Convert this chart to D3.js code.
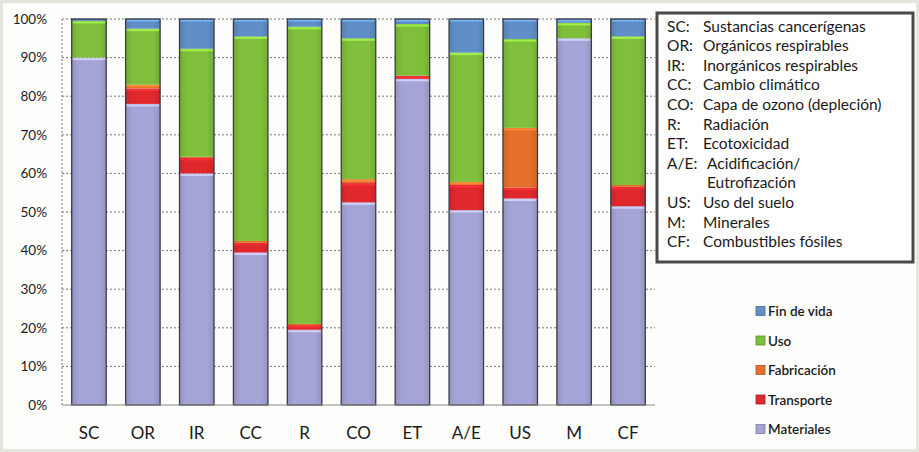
<!DOCTYPE html>
<html>
<head>
<meta charset="utf-8">
<script src="https://cdn.jsdelivr.net/npm/d3@7"></script>
<style>
  body { margin: 0; background: #fff; }
  text { font-family: Lato, "Open Sans", sans-serif; fill: #1a1a1a; }
</style>
</head>
<body>
<div id="chart"></div>
<script>
// categories and series (percent of each impact, bottom -> top)
const categories = ["SC", "OR", "IR", "CC", "R", "CO", "ET", "A/E", "US", "M", "CF"];
const materiales  = [90,   78,  60,  39.5, 19.5, 52.5, 84.5, 50.5, 53.5, 95,  51.5];
const transporte  = [0,    4,   4,   2.5,  1.2,  5,    0.8,  6.5,  2.8,  0,   5];
const fabricacion = [0,    1,   0.3, 0.5,  0.3,  1,    0,    0.8,  15.5, 0,   0.5];
const uso         = [9.5,  14.5,28,  53,   77,   36.5, 13.4, 33.5, 23,   4,   38.5];
const finDeVida   = [0.5,  2.5, 7.7, 4.5,  2,    5,    1.3,  8.7,  5.2,  1,   4.5];

const seriesNames = ["Materiales", "Transporte", "Fabricación", "Uso", "Fin de vida"];
const yTicks = [0, 10, 20, 30, 40, 50, 60, 70, 80, 90, 100];

const glossaryAbbr = ["SC:", "OR:", "IR:", "CC:", "CO:", "R:", "ET:", "A/E:", "", "US:", "M:", "CF:"];
const glossaryText = ["Sustancias cancerígenas", "Orgánicos respirables", "Inorgánicos respirables",
  "Cambio climático", "Capa de ozono (depleción)", "Radiación", "Ecotoxicidad", "Acidificación/",
  "Eutrofización", "Uso del suelo", "Minerales", "Combustibles fósiles"];

const colors = {
  "Materiales": "#a5a4d6",
  "Transporte": "#e0282d",
  "Fabricación": "#e56f2b",
  "Uso": "#7fbf3b",
  "Fin de vida": "#5f8fc6"
};

const width = 919, height = 452;
const margin = { top: 19, left: 62, right: 264, bottom: 47 };

const svg = d3.select("#chart").append("svg")
  .attr("width", width)
  .attr("height", height);

// paper frame
svg.append("rect")
  .attr("x", 0).attr("y", 0).attr("width", width).attr("height", height)
  .attr("fill", "#fdfdfb");
svg.append("rect")
  .attr("x", 1.5).attr("y", 1.5).attr("width", width - 3).attr("height", height - 3)
  .attr("fill", "none").attr("stroke", "#e4e6dc").attr("stroke-width", 3);

const x = d3.scaleBand()
  .domain(categories)
  .range([margin.left, width - margin.right])
  .paddingInner(0.36)
  .paddingOuter(0.18);

const y = d3.scaleLinear()
  .domain([0, 100])
  .range([height - margin.bottom, margin.top]);

// gridlines
svg.append("g")
  .selectAll("line")
  .data(yTicks.filter(d => d > 0))
  .enter().append("line")
  .attr("x1", margin.left).attr("x2", width - margin.right)
  .attr("y1", d => y(d)).attr("y2", d => y(d))
  .attr("stroke", "#777")
  .attr("stroke-width", 1)
  .attr("stroke-dasharray", "2,2");

svg.append("line")
  .attr("x1", margin.left).attr("x2", margin.left)
  .attr("y1", y(100)).attr("y2", y(0))
  .attr("stroke", "#777")
  .attr("stroke-dasharray", "2,2");

// y axis labels
const yAxis = d3.axisLeft(y)
  .tickValues(yTicks)
  .tickFormat(d => d + "%")
  .tickSize(0)
  .tickPadding(15);

const yg = svg.append("g")
  .attr("transform", "translate(" + margin.left + ",0)")
  .call(yAxis);
yg.select(".domain").remove();
yg.selectAll("text")
  .style("font-size", "13.5px")
  .style("font-family", "Lato, sans-serif")
  .attr("fill", "#1a1a1a");

// stacked data
const table = categories.map((c, i) => ({
  cat: c,
  "Materiales": materiales[i],
  "Transporte": transporte[i],
  "Fabricación": fabricacion[i],
  "Uso": uso[i],
  "Fin de vida": finDeVida[i]
}));

const stacked = d3.stack().keys(seriesNames)(table);

const defs = svg.append("defs");
seriesNames.forEach((name, k) => {
  const base = d3.color(colors[name]);
  const grad = defs.append("linearGradient")
    .attr("id", "grad" + k)
    .attr("x1", "0").attr("x2", "1").attr("y1", "0").attr("y2", "0");
  grad.append("stop").attr("offset", "0").attr("stop-color", base.darker(0.3));
  grad.append("stop").attr("offset", "0.2").attr("stop-color", base);
  grad.append("stop").attr("offset", "0.8").attr("stop-color", base);
  grad.append("stop").attr("offset", "1").attr("stop-color", base.darker(0.3));
});

stacked.forEach((layer, k) => {
  const g = svg.append("g");
  g.selectAll("rect.seg")
    .data(layer.filter(d => d[1] - d[0] > 0))
    .enter().append("rect")
    .attr("class", "seg")
    .attr("x", d => x(d.data.cat))
    .attr("width", x.bandwidth())
    .attr("y", d => y(d[1]))
    .attr("height", d => y(d[0]) - y(d[1]))
    .attr("fill", "url(#grad" + k + ")");
  // top highlight of each segment
  g.selectAll("rect.hl")
    .data(layer.filter(d => y(d[0]) - y(d[1]) > 3))
    .enter().append("rect")
    .attr("class", "hl")
    .attr("x", d => x(d.data.cat) + 1)
    .attr("width", x.bandwidth() - 2)
    .attr("y", d => y(d[1]) + 0.5)
    .attr("height", 2)
    .attr("fill", d3.color(colors[seriesNames[k]]).brighter(0.8))
    .attr("opacity", 0.8);
});

// bar outlines
svg.append("g")
  .selectAll("rect")
  .data(categories)
  .enter().append("rect")
  .attr("x", d => x(d))
  .attr("width", x.bandwidth())
  .attr("y", y(100))
  .attr("height", y(0) - y(100))
  .attr("fill", "none")
  .attr("stroke", "#3b3b4a")
  .attr("stroke-width", 1.3);

// x axis
svg.append("line")
  .attr("x1", margin.left).attr("x2", width - margin.right)
  .attr("y1", y(0)).attr("y2", y(0))
  .attr("stroke", "#888")
  .attr("stroke-width", 1.2);

svg.append("g")
  .selectAll("text")
  .data(categories)
  .enter().append("text")
  .attr("x", d => x(d) + x.bandwidth() / 2)
  .attr("y", 439)
  .attr("text-anchor", "middle")
  .style("font-size", "17px")
  .text(d => d);

// glossary box
svg.append("rect")
  .attr("x", 657).attr("y", 13).attr("width", 256).attr("height", 249)
  .attr("fill", "#fff")
  .attr("stroke", "#4a4a4a")
  .attr("stroke-width", 3);

const gl = svg.append("g");
gl.selectAll("text.abbr")
  .data(glossaryAbbr)
  .enter().append("text")
  .attr("class", "abbr")
  .attr("x", 667)
  .attr("y", (d, i) => 31.5 + i * 19.6)
  .style("font-size", "15.5px")
  .text(d => d);
gl.selectAll("text.desc")
  .data(glossaryText)
  .enter().append("text")
  .attr("class", "desc")
  .attr("x", (d, i) => (i === 7 || i === 8) ? 707 : 703)
  .attr("y", (d, i) => 31.5 + i * 19.6)
  .style("font-size", "15.5px")
  .text(d => d);

// series legend (top to bottom: Fin de vida ... Materiales)
const legendOrder = seriesNames.slice().reverse();
const lg = svg.append("g");
const legY = d3.scalePoint().domain(legendOrder).range([311, 429]);
lg.selectAll("rect")
  .data(legendOrder)
  .enter().append("rect")
  .attr("x", 756)
  .attr("y", d => legY(d) - 4.5)
  .attr("width", 9).attr("height", 9)
  .attr("fill", d => colors[d])
  .attr("stroke", d => d3.color(colors[d]).darker(0.8))
  .attr("stroke-width", 0.8);
lg.selectAll("text")
  .data(legendOrder)
  .enter().append("text")
  .attr("x", 768)
  .attr("y", d => legY(d) + 5)
  .style("font-size", "13.5px")
  .style("font-weight", "600")
  .text(d => d);
</script>
</body>
</html>
